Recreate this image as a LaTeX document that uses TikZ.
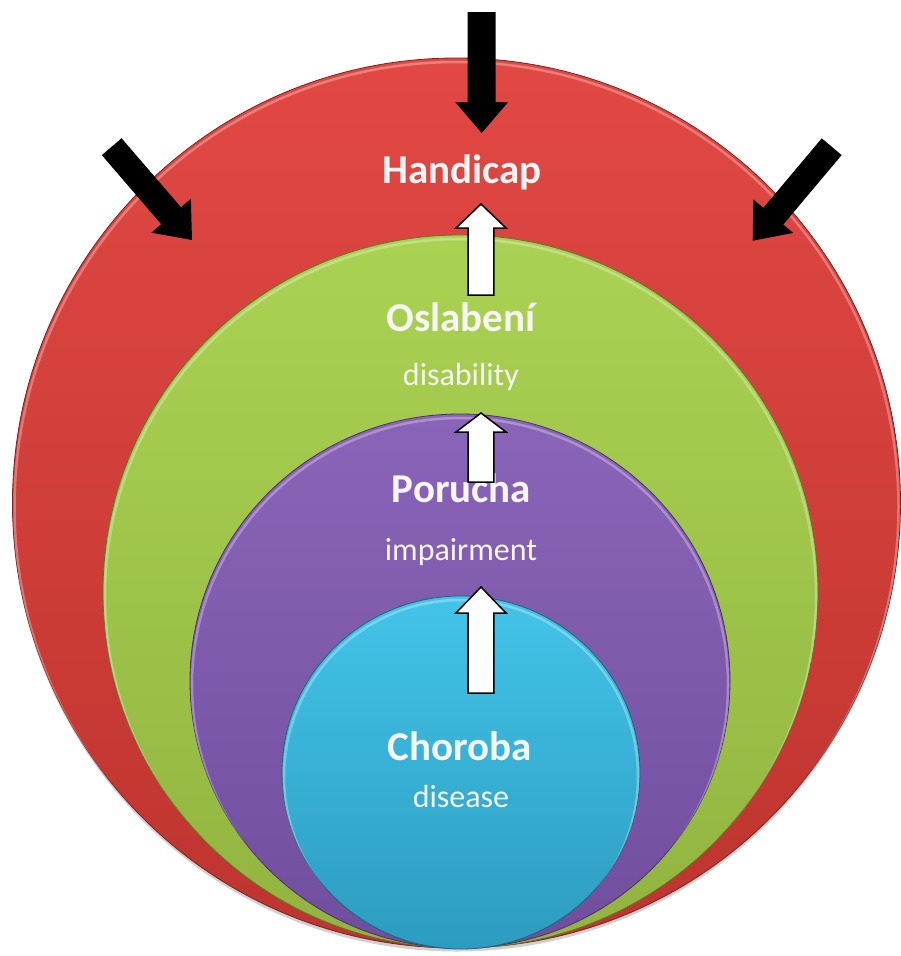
\documentclass[tikz,border=0pt]{standalone}
\usepackage{fontspec}
\setmainfont{Carlito}
\usetikzlibrary{calc}
\definecolor{redT}{RGB}{226,72,68}
\definecolor{redB}{RGB}{190,52,46}
\definecolor{greenT}{RGB}{170,210,82}
\definecolor{greenB}{RGB}{146,180,64}
\definecolor{purpleT}{RGB}{138,100,184}
\definecolor{purpleB}{RGB}{112,78,158}
\definecolor{blueT}{RGB}{66,196,232}
\definecolor{blueB}{RGB}{44,156,192}
\definecolor{labelwhite}{RGB}{246,246,246}
\newcommand{\layer}[6]{%
  \path[top color=#5, bottom color=#6, draw=#6!65!black, line width=0.8pt]
    (#1,#2) ellipse [x radius=#3pt, y radius=#4pt];
  \begin{scope}
    \clip (#1,#2) ellipse [x radius=#3pt, y radius=#4pt];
    \draw[white, opacity=0.3, line width=2.5pt]
      (#1,#2+4) ellipse [x radius=#3pt-2pt, y radius=#4pt];
  \end{scope}}
\newcommand{\blockarrow}[6]{%
  \coordinate (#3-h) at ($(#3)!#6!(#2)$);
  \path[#1] ($(#2)!#4!90:(#3)$) -- ($(#3-h)!#4!90:(#3)$) -- ($(#3-h)!#5!90:(#3)$)
    -- (#3) -- ($(#3-h)!#5!-90:(#3)$) -- ($(#3-h)!#4!-90:(#3)$)
    -- ($(#2)!#4!-90:(#3)$) -- cycle;}
\tikzset{
  title/.style={text=labelwhite, font=\bfseries\fontsize{41}{41}\selectfont, anchor=base, inner sep=0pt},
  subtitle/.style={text=labelwhite, font=\fontsize{32}{32}\selectfont, anchor=base, inner sep=0pt},
  blackarrow/.style={fill=black},
  whitearrow/.style={fill=white, draw=black, line width=1.5pt, line join=miter}
}
\begin{document}
\begin{tikzpicture}[x=1pt, y=-1pt]
\useasboundingbox (0,0) rectangle (901,956);
\fill[white] (0,0) rectangle (901,956);
% soft shadow
\fill[black, opacity=0.18] (456.5,505.5) ellipse [x radius=444pt, y radius=446pt];
% nested layers
\layer{456.5}{503}{444}{445}{redT}{redB}
\layer{460.5}{591.5}{357.5}{356.5}{greenT}{greenB}
\layer{460}{681}{270}{267}{purpleT}{purpleB}
\layer{461}{772.5}{179}{176.5}{blueT}{blueB}
% labels
\node[title] (handicap) at (462,183) {Handicap};
\node[title] (oslabeni) at (461,331.7) {Oslabení};
\node[subtitle] (disability) at (461,385) {disability};
\node[title] (porucha) at (461.5,502) {Porucha};
\node[subtitle] (impairment) at (461,560) {impairment};
\node[title] (choroba) at (460,760) {Choroba};
\node[subtitle] (disease) at (461,807.7) {disease};
% black arrows
\coordinate (bL0) at (111.7,146.7); \coordinate (bL1) at (192,240);
\coordinate (bR0) at (831.7,146.7); \coordinate (bR1) at (752.7,240.7);
\coordinate (bT0) at (481.7,12);    \coordinate (bT1) at (481.7,133);
\blockarrow{blackarrow}{bL0}{bL1}{13pt}{26pt}{32pt}
\blockarrow{blackarrow}{bR0}{bR1}{13pt}{26pt}{32pt}
\blockarrow{blackarrow}{bT0}{bT1}{14pt}{26.5pt}{31pt}
% white arrows
\coordinate (w1a) at (481,295); \coordinate (w1b) at (481,204);
\coordinate (w2a) at (481,482); \coordinate (w2b) at (481,413);
\coordinate (w3a) at (481,693); \coordinate (w3b) at (481,587);
\blockarrow{whitearrow}{w1a}{w1b}{12.8pt}{25pt}{24pt}
\blockarrow{whitearrow}{w2a}{w2b}{12.8pt}{25pt}{19pt}
\blockarrow{whitearrow}{w3a}{w3b}{12.8pt}{25pt}{26pt}
\end{tikzpicture}
\end{document}
